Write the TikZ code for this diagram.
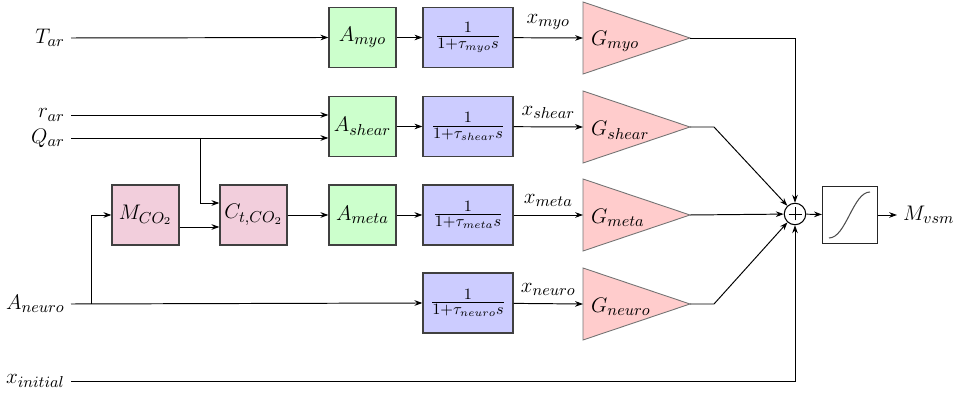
\documentclass[tikz,border=0pt]{standalone}
\usetikzlibrary{arrows.meta,calc}
\definecolor{agreen}{RGB}{204,255,204}
\definecolor{tblue}{RGB}{204,204,255}
\definecolor{gred}{RGB}{255,204,204}
\definecolor{mpink}{RGB}{242,206,220}
\tikzset{
  lbl/.style={font=\fontsize{12.5}{14}\selectfont},
  abox/.style={draw=black!75, line width=0.7pt, fill=agreen, minimum width=1.34cm, minimum height=1.2cm, inner sep=0pt, font=\fontsize{12.5}{14}\selectfont},
  mbox/.style={abox, fill=mpink},
  tbox/.style={draw=black!75, line width=0.7pt, fill=tblue, minimum width=1.8cm, minimum height=1.2cm, inner sep=0pt, font=\fontsize{12.5}{14}\selectfont},
  gtri/.style={draw=black!55, line width=0.5pt, fill=gred},
  conn/.style={line width=0.55pt, -{Stealth[length=4.5pt,width=3.2pt]}},
  wire/.style={line width=0.55pt}
}
\begin{document}
\begin{tikzpicture}[x=0.02cm, y=-0.02cm]
\useasboundingbox (0,0) rectangle (954,394);
% left inputs
\node[lbl, anchor=east] (tar) at (71,38) {$T_{ar}$};
\node[lbl, anchor=east] (rar) at (71,115) {$r_{ar}$};
\node[lbl, anchor=east] (qar) at (71,138) {$Q_{ar}$};
\node[lbl, anchor=east] (aneu) at (71,304) {$A_{neuro}$};
\node[lbl, anchor=east] (xin) at (71,381) {$x_{initial}$};
% boxes
\node[abox] (amyo) at (362.5,37.5) {$A_{myo}$};
\node[abox] (ash) at (362.5,126.5) {$A_{shear}$};
\node[abox] (ame) at (362.5,215) {$A_{meta}$};
\node[mbox] (mco) at (145.5,215) {$M_{CO_2}$};
\node[mbox] (ct) at (253.5,215) {$C_{t,CO_2}$};
\node[tbox] (bmyo) at (468,37.5) {$\frac{1}{1+\tau_{myo}s}$};
\node[tbox] (bsh) at (468,126.5) {$\frac{1}{1+\tau_{shear}s}$};
\node[tbox] (bme) at (468,215) {$\frac{1}{1+\tau_{meta}s}$};
\node[tbox] (bne) at (468,303) {$\frac{1}{1+\tau_{neuro}s}$};
% gain triangles
\foreach \n/\yy in {gmy/38, gsh/127, gme/215, gne/304}{
  \filldraw[gtri] (583,\yy-36) -- (690,\yy) -- (583,\yy+36) -- cycle;
  \coordinate (\n i) at (583,\yy);
  \coordinate (\n o) at (690,\yy);
}
\node[lbl, anchor=west] (gmyl) at (585,41) {$G_{myo}$};
\node[lbl, anchor=west] (gshl) at (585,130) {$G_{shear}$};
\node[lbl, anchor=west] (gmel) at (585,218) {$G_{meta}$};
\node[lbl, anchor=west] (gnel) at (585,307) {$G_{neuro}$};
% sum and sigmoid
\node[draw, circle, line width=0.6pt, minimum size=0.43cm, inner sep=0pt] (sum) at (795,214) {};
\draw[line width=0.4pt] ([yshift=-0.13cm]sum.center) -- ([yshift=0.13cm]sum.center)
  ([xshift=-0.13cm]sum.center) -- ([xshift=0.13cm]sum.center);
\node[draw=black!85, line width=0.6pt, minimum width=1.1cm, minimum height=1.14cm] (sig) at (850,215) {};
\draw[black!70, line width=0.6pt] (829,238) .. controls (846,238) and (853,192) .. (870,192);
\node[lbl, anchor=west] (mvsm) at (897,215) {$M_{vsm}$};
% junctions
\coordinate (qb) at (200,138);
\coordinate (nb) at (91,304);
\coordinate (cs) at (714,127);
\coordinate (cn) at (714,304);
% connectors
\draw[conn] (tar.east) -- (amyo.west);
\draw[conn] (rar.east) -- (rar.east -| ash.west);
\draw[conn] (qar.east) -- (qar.east -| ash.west);
\draw[conn] (qb) |- ([yshift=0.24cm]ct.west);
\draw[conn] (nb) |- (mco.west);
\draw[conn] ([yshift=-0.24cm]mco.east) -- ([yshift=-0.24cm]ct.west);
\draw[conn] (ct) -- (ame);
\draw[conn] (aneu.east) -- (bne.west);
\draw[conn] (amyo) -- (bmyo);
\draw[conn] (ash) -- (bsh);
\draw[conn] (ame) -- (bme);
\draw[conn] (bmyo) -- node[lbl, above, yshift=1pt] {$x_{myo}$} (gmyi);
\draw[conn] (bsh) -- node[lbl, above, yshift=1pt] {$x_{shear}$} (gshi);
\draw[conn] (bme) -- node[lbl, above, yshift=1pt] {$x_{meta}$} (gmei);
\draw[conn] (bne) -- node[lbl, above, yshift=1pt] {$x_{neuro}$} (gnei);
\draw[conn] (gmyo) -| (sum.north);
\draw[conn] (gsho) -- (cs) -- (sum);
\draw[conn] (gmeo) -- (sum);
\draw[conn] (gneo) -- (cn) -- (sum);
\draw[conn] (xin.east) -| (sum.south);
\draw[conn] (sum) -- (sig);
\draw[conn] (sig) -- (mvsm);
\end{tikzpicture}
\end{document}
